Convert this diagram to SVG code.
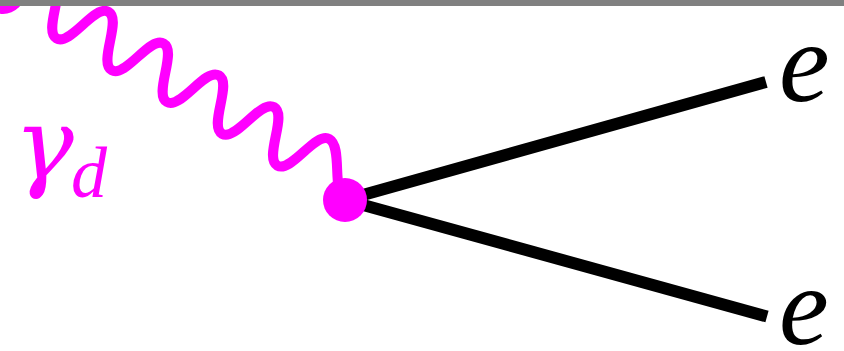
<svg xmlns="http://www.w3.org/2000/svg" width="844" height="351" viewBox="0 0 844 351">
  <style>
    .photon { fill: none; stroke: #ff00ff; stroke-width: 10; stroke-linecap: round; stroke-linejoin: round; }
    .fermion { fill: none; stroke: #000000; stroke-width: 12; stroke-linecap: butt; }
    .vtx { fill: #ff00ff; }
    .lbl { font-family: "Liberation Serif", "Times New Roman", serif; font-style: italic; }
    .greek { font-family: "DejaVu Serif", "Liberation Serif", serif; font-style: italic; }
  </style>
  <rect x="0" y="0" width="844" height="351" fill="#ffffff"/>
  <g id="connectors">
    <path id="photon" class="photon" d="M 1.3 6.6 C 15.1 14.5 39.5 -27.9 53.3 -20 S 42.7 30.5 56.5 38.4 S 94.7 3.9 108.5 11.8 S 97.9 62.3 111.7 70.2 S 149.9 35.7 163.7 43.6 S 153.1 94.1 166.9 102 S 205.1 67.5 218.9 75.4 S 208.3 125.9 222.1 133.8 S 260.3 99.3 274.1 107.2 S 263.5 157.7 277.3 165.6 S 315.5 131.1 329.3 139 S 331.2 192.1 345 200"/>
    <line id="e1-line" class="fermion" x1="345" y1="200" x2="766" y2="82"/>
    <line id="e2-line" class="fermion" x1="345" y1="200" x2="767" y2="316.5"/>
  </g>
  <g id="vertex-start">
    <circle class="vtx" cx="3" cy="-8" r="22"/>
  </g>
  <g id="vertex">
    <circle class="vtx" cx="345" cy="200" r="22"/>
  </g>
  <g id="label-gamma">
    <text class="greek" fill="#ff00ff" x="14" y="178" font-size="100">γ</text>
    <text class="lbl" fill="#ff00ff" x="71" y="197" font-size="72">d</text>
  </g>
  <g id="label-e1">
    <text class="lbl" fill="#000000" x="779" y="101" font-size="114">e</text>
  </g>
  <g id="label-e2">
    <text class="lbl" fill="#000000" x="779" y="344" font-size="112">e</text>
  </g>
  <rect id="top-bar" x="0" y="0" width="844" height="6" fill="#808080"/>
</svg>
